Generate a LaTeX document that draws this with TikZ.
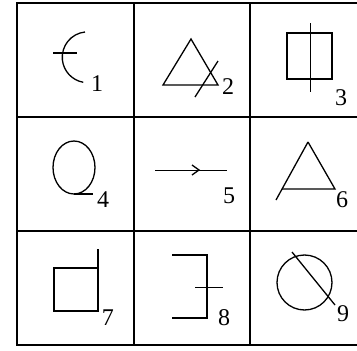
\documentclass[tikz,border=0pt]{standalone}
\usepackage{fontspec}
\setmainfont{Liberation Serif}
\usetikzlibrary{positioning}
\tikzset{
  fig/grid/.style={draw=black, line width=1.8pt},
  fig/shape/.style={draw=black, line width=1.3pt, line join=miter},
  fig/thin/.style={draw=black, line width=0.9pt},
  fig/label/.style={font=\fontsize{24}{24}\selectfont, text=black, inner sep=0pt}
}
\begin{document}
\begin{tikzpicture}[x=1pt,y=-1pt]
  \useasboundingbox (0,0) rectangle (357,351);
  % grid
  \draw[fig/grid] (357,3) -- (17,3) -- (17,345) -- (357,345);
  \draw[fig/grid] (17,117) -- (357,117);
  \draw[fig/grid] (17,231) -- (357,231);
  \draw[fig/grid] (134,3) -- (134,345);
  \draw[fig/grid] (250,3) -- (250,345);
  % 1
  \draw[fig/shape] (85,32) arc[start angle=264, end angle=100, radius=25.4];
  \draw[fig/shape] (53,53) -- (77,53);
  \node[fig/label] (n1) at (97,84) {1};
  % 2
  \draw[fig/shape] (191,39) -- (163,85) -- (218,85) -- cycle;
  \draw[fig/shape] (218,61) -- (195,97);
  \node[fig/label] (n2) at (228,87) {2};
  % 3
  \draw[fig/shape] (287,33) rectangle (332,79);
  \draw[fig/thin] (310,23) -- (310,92);
  \node[fig/label] (n3) at (341,98) {3};
  % 4
  \draw[fig/shape] (74,167.5) ellipse[x radius=21, y radius=26.5];
  \draw[fig/shape] (74,194) -- (93,194);
  \node[fig/label] (n4) at (103,200) {4};
  % 5
  \draw[fig/thin] (155,170) -- (227,170);
  \draw[fig/shape] (192,165) -- (199,170) -- (192,175);
  \node[fig/label] (n5) at (229,196) {5};
  % 6
  \draw[fig/shape] (308,142) -- (335,189) -- (282,189);
  \draw[fig/shape] (308,142) -- (276,200);
  \node[fig/label] (n6) at (342,200) {6};
  % 7
  \draw[fig/shape] (98,249) -- (98,311) -- (54,311) -- (54,268) -- (98,268);
  \node[fig/label] (n7) at (108,318) {7};
  % 8
  \draw[fig/shape] (172,255) -- (207,255) -- (207,318) -- (172,318);
  \draw[fig/thin] (195,287) -- (223,287);
  \node[fig/label] (n8) at (224,318) {8};
  % 9
  \draw[fig/shape] (304.5,282.5) circle[radius=27.5];
  \draw[fig/shape] (292,252) -- (335,305);
  \node[fig/label] (n9) at (343,314) {9};
\end{tikzpicture}
\end{document}
